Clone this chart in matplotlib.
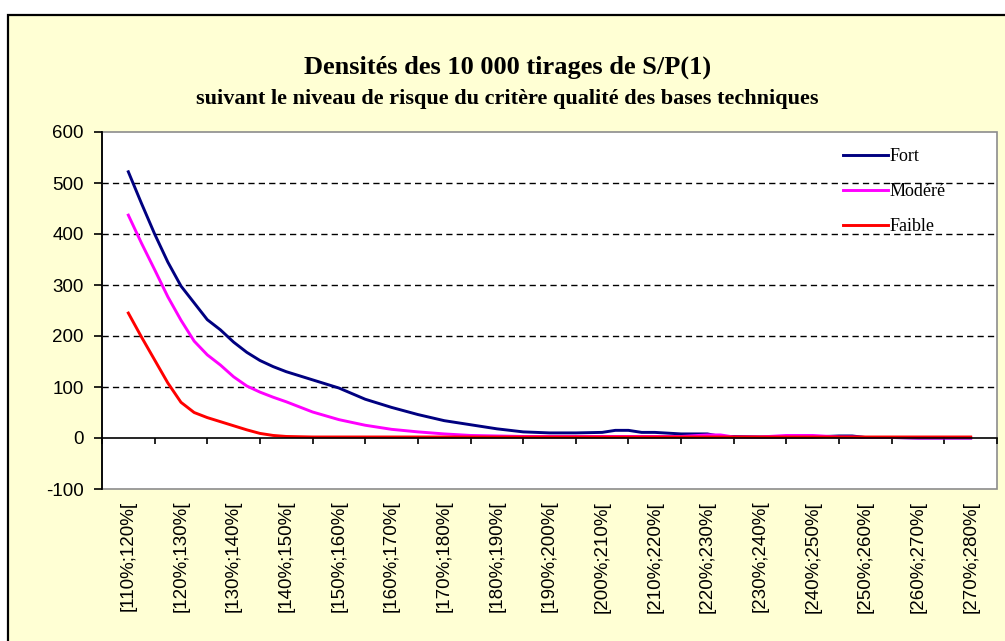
import matplotlib
matplotlib.use("Agg")
import matplotlib.pyplot as plt
from matplotlib.patches import Rectangle

plt.rcParams["axes.unicode_minus"] = False

# centres des classes de S/P (en %)
x_pct = [115, 117.5, 120, 122.5, 125, 127.5, 130, 132.5, 135, 137.5, 140, 142.5, 145,
         150, 155, 160, 165, 170, 175, 180, 185, 190, 195, 200, 205, 207.5, 210, 212.5,
         215, 220, 225, 227.5, 230, 235, 240, 245, 250, 252.5, 255, 260, 265, 270, 275]

fort = [522, 460, 400, 345, 298, 265, 232, 212, 188, 168, 152, 140, 130,
        114, 98, 76, 60, 46, 34, 26, 18, 12, 10, 10, 11, 15, 15, 11,
        11, 8, 8, 3, 3, 2, 2, 2, 4, 4, 1, 1, 0, 0, 0]

modere = [437, 382, 330, 277, 231, 190, 163, 143, 120, 102, 90, 80, 71,
          51, 36, 25, 17, 12, 8, 5, 4, 3, 3, 3, 3, 3, 3, 3,
          3, 3, 6, 6, 2, 2, 5, 5, 2, 2, 1, 1, 0, 0, 0]

faible = [245, 198, 153, 108, 70, 50, 40, 32, 24, 16, 9, 5, 3,
          2, 2, 2, 2, 2, 2, 2, 2, 2, 2, 2, 2, 2, 2, 2,
          2, 2, 2, 2, 2, 2, 2, 2, 2, 2, 2, 2, 2, 2, 2]

bornes = list(range(110, 290, 10))
etiquettes = ["[%d%%;%d%%[" % (b, b + 10) for b in bornes[:-1]]
centres = [b + 5 for b in bornes[:-1]]

CREME = "#FFFFD4"

fig = plt.figure(figsize=(10.05, 6.41), dpi=100)
fig.patch.set_facecolor("white")
fig.patches.append(Rectangle((8 / 1005, -0.02), 1.05, 1 - 15 / 641 + 0.02,
                             transform=fig.transFigure, facecolor=CREME,
                             edgecolor="black", linewidth=1.6, zorder=-10))

ax = fig.add_axes([102 / 1005, 1 - 489 / 641, 895 / 1005, 357 / 641])
ax.set_facecolor("white")

ax.plot(x_pct, fort, color="#000080", linewidth=2.1, label="Fort")
ax.plot(x_pct, modere, color="#FF00FF", linewidth=2.1, label="Modéré")
ax.plot(x_pct, faible, color="#FF0000", linewidth=2.1, label="Faible")

for y in range(100, 600, 100):
    ax.axhline(y, color="black", linewidth=1.0, linestyle=(0, (4.5, 3)), zorder=0)

ax.set_xlim(110, 280)
ax.set_ylim(-100, 600)
ax.set_yticks(range(-100, 700, 100))
ax.tick_params(axis="y", direction="out", length=6, width=1.2, pad=7,
               labelsize=13.5, labelfontfamily="Liberation Sans")

# axe des abscisses à y = 0
for nom in ("top", "right"):
    ax.spines[nom].set_visible(False)
ax.spines["left"].set_linewidth(1.3)
ax.spines["bottom"].set_position(("data", 0))
ax.spines["bottom"].set_linewidth(1.2)
ax.set_xticks(bornes)
ax.set_xticklabels([])
ax.tick_params(axis="x", direction="out", length=4.5, width=1.2)
ax.add_patch(Rectangle((0, 0), 1, 1, transform=ax.transAxes, facecolor="none",
                       edgecolor="#8C8C8C", linewidth=1.2, zorder=0.5, clip_on=False))

sec = ax.secondary_xaxis(0)
sec.set_xticks(centres)
sec.set_xticklabels(etiquettes, rotation=90, fontsize=13.5, family="Liberation Sans")
sec.tick_params(length=0, pad=8.5)
sec.spines["bottom"].set_visible(False)

ax.legend(loc="upper left", bbox_to_anchor=(0.828, 0.955), frameon=False,
          prop={"family": "Liberation Serif", "size": 13},
          handlelength=2.5, handletextpad=0.1, labelspacing=1.0,
          borderaxespad=0, borderpad=0)

fig.text(0.505, 1 - 67 / 641, "Densités des 10 000 tirages de S/P(1)",
         ha="center", va="center", family="Liberation Serif", weight="bold", size=19)
fig.text(0.505, 1 - 99 / 641,
         "suivant le niveau de risque du critère qualité des bases techniques",
         ha="center", va="center", family="Liberation Serif", weight="bold", size=16)

fig.savefig("out.png", dpi=100)
